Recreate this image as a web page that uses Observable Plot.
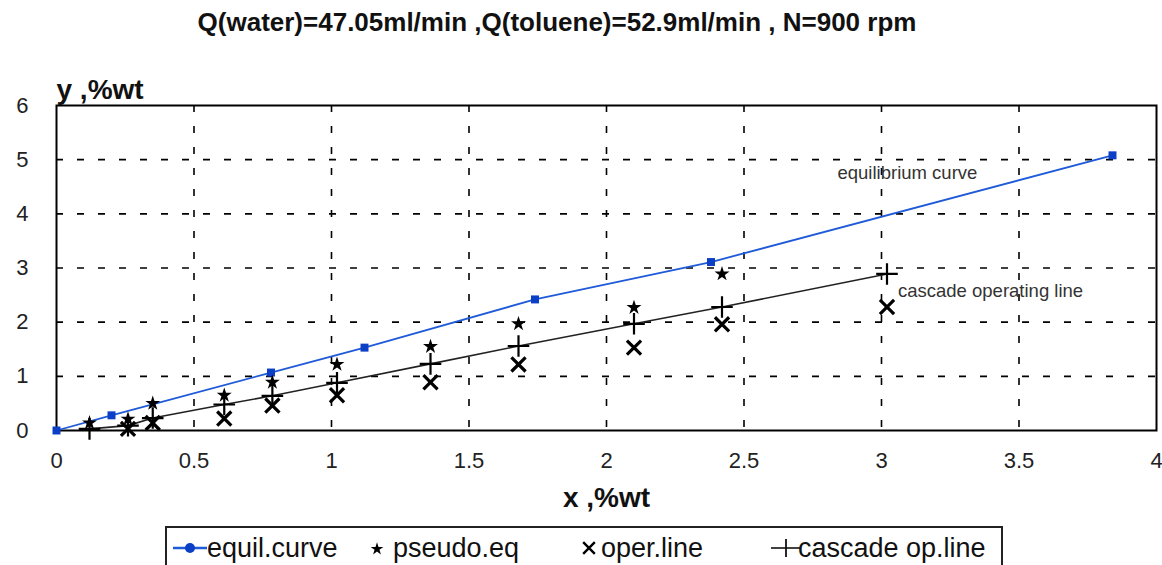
<!DOCTYPE html>
<html>
<head>
<meta charset="utf-8">
<script src="https://cdn.jsdelivr.net/npm/d3@7"></script>
<script src="https://cdn.jsdelivr.net/npm/@observablehq/plot@0.6"></script>
<style>
  html, body { margin: 0; padding: 0; background: #fff; }
  #wrap { position: relative; width: 1162px; height: 565px; overflow: hidden; font-family: "Liberation Sans", Arial, sans-serif; }
  #title { position: absolute; top: 6px; left: 0; width: 1114px; text-align: center; font-weight: bold; font-size: 26px; line-height: 32px; color: #111; }
  #chart { position: absolute; top: 45px; left: 0; }
  #legend { position: absolute; top: 526px; left: 165px; width: 838px; height: 60px; border: 2px solid #222; box-sizing: border-box; }
  .li { position: absolute; top: 4px; font-size: 27px; line-height: 32px; color: #111; white-space: nowrap; }
  .ic { position: absolute; top: 8px; }
</style>
</head>
<body>
<div id="wrap">
  <div id="title"></div>
  <div id="chart"></div>
  <div id="legend"></div>
</div>
<script>
// ---- data ----
const titleText = "Q(water)=47.05ml/min ,Q(toluene)=52.9ml/min , N=900 rpm";
const xLabel = "x ,%wt";
const yLabel = "y ,%wt";

const equilX = [0, 0.20, 0.78, 1.12, 1.74, 2.38, 3.84];
const equilY = [0, 0.28, 1.07, 1.53, 2.42, 3.11, 5.08];

const pseudoX = [0.12, 0.26, 0.35, 0.61, 0.785, 1.02, 1.36, 1.68, 2.10, 2.42];
const pseudoY = [0.14, 0.21, 0.50, 0.65, 0.89, 1.22, 1.55, 1.97, 2.27, 2.89];

const operX = [0.26, 0.35, 0.61, 0.785, 1.02, 1.36, 1.68, 2.10, 2.42, 3.02];
const operY = [0.03, 0.14, 0.22, 0.46, 0.65, 0.89, 1.22, 1.53, 1.96, 2.28];

const cascadeX = [0.12, 0.26, 0.35, 0.61, 0.785, 1.02, 1.36, 1.68, 2.10, 2.42, 3.02];
const cascadeY = [0.03, 0.09, 0.23, 0.48, 0.64, 0.88, 1.23, 1.56, 1.97, 2.28, 2.89];

const xTicks = [0, 0.5, 1, 1.5, 2, 2.5, 3, 3.5, 4];
const yTicks = [0, 1, 2, 3, 4, 5, 6];
const xGrid = [0.5, 1, 1.5, 2, 2.5, 3, 3.5];
const yGrid = [1, 2, 3, 4, 5];

const annText = ["equilibrium curve", "cascade operating line"];
const annX = [2.84, 3.06];
const annY = [4.76, 2.57];

const legendLabels = ["equil.curve", "pseudo.eq", "oper.line", "cascade op.line"];

// ---- build tables ----
const zip = (xs, ys) => xs.map((x, i) => ({x, y: ys[i]}));
const equil = zip(equilX, equilY);
const pseudo = zip(pseudoX, pseudoY);
const oper = zip(operX, operY);
const cascade = zip(cascadeX, cascadeY);
const ann = annText.map((t, i) => ({t, x: annX[i], y: annY[i]}));

const BLUE_LINE = "#1f5ad8";
const BLUE_DOT = "#0b3fc6";

document.getElementById("title").textContent = titleText;

const chart = Plot.plot({
  width: 1162,
  height: 480,
  marginTop: 60,
  marginBottom: 95,
  marginLeft: 56,
  marginRight: 6,
  style: {fontFamily: "Liberation Sans, Arial, sans-serif", background: "white", color: "#222"},
  x: {domain: [0, 4]},
  y: {domain: [0, 6]},
  marks: [
    Plot.gridX(xGrid, {stroke: "#000", strokeOpacity: 1, strokeWidth: 1.6, strokeDasharray: "7,14"}),
    Plot.gridY(yGrid, {stroke: "#000", strokeOpacity: 1, strokeWidth: 1.6, strokeDasharray: "7,14"}),
    Plot.axisX({ticks: xTicks, tickSize: 0, tickPadding: 22, fontSize: 22, label: null, fill: "#222", tickFormat: d => String(d)}),
    Plot.axisY({ticks: yTicks, tickSize: 0, tickPadding: 28, fontSize: 22, label: null, fill: "#222", tickFormat: d => String(d)}),
    Plot.frame({stroke: "#000", strokeWidth: 2}),
    Plot.line(equil, {x: "x", y: "y", stroke: BLUE_LINE, strokeWidth: 1.8}),
    Plot.line(cascade, {x: "x", y: "y", stroke: "#222", strokeWidth: 1.6}),
    Plot.dot(equil, {x: "x", y: "y", symbol: "square", r: 4.5, fill: BLUE_DOT}),
    Plot.dot(pseudo, {x: "x", y: "y", symbol: "star", r: 4.7, fill: "#000"}),
    Plot.dot(oper, {x: "x", y: "y", symbol: "times", r: 6.5, stroke: "#000", strokeWidth: 3.2}),
    Plot.dot(cascade, {x: "x", y: "y", symbol: "plus", r: 7, stroke: "#000", strokeWidth: 2.2}),
    Plot.text(ann, {x: "x", y: "y", text: "t", textAnchor: "start", fontSize: 18.5, fill: "#333"}),
    Plot.text([yLabel], {text: d => d, frameAnchor: "top-left", textAnchor: "start", dy: -26, fontSize: 28, fontWeight: "bold", fill: "#111"}),
    Plot.text([xLabel], {text: d => d, frameAnchor: "bottom", dy: 76, fontSize: 28, fontWeight: "bold", fill: "#111"})
  ]
});
document.getElementById("chart").appendChild(chart);

// ---- legend ----
const legend = document.getElementById("legend");
const sym = (type, size) => d3.symbol(type, size)();
const icons = [
  {left: 6, w: 34, svg: `<line x1="0" y1="12" x2="34" y2="12" stroke="${BLUE_LINE}" stroke-width="2.5"/><circle cx="17" cy="12" r="5" fill="${BLUE_DOT}"/>`},
  {left: 200, w: 20, svg: `<path transform="translate(10,13)" d="${sym(d3.symbolStar, 50)}" fill="#000"/>`},
  {left: 412, w: 20, svg: `<path transform="translate(10,12)" d="${sym(d3.symbolTimes, 90)}" stroke="#000" stroke-width="2.4" fill="none"/>`},
  {left: 604, w: 30, svg: `<line x1="0" y1="12" x2="30" y2="12" stroke="#111" stroke-width="1.6"/><line x1="15" y1="3" x2="15" y2="21" stroke="#111" stroke-width="1.8"/>`}
];
const textLefts = [40, 226, 434, 631];
icons.forEach((ic, i) => {
  const d = document.createElement("div");
  d.className = "ic";
  d.style.left = ic.left + "px";
  d.innerHTML = `<svg width="${ic.w}" height="24">${ic.svg}</svg>`;
  legend.appendChild(d);
  const t = document.createElement("div");
  t.className = "li";
  t.style.left = textLefts[i] + "px";
  t.textContent = legendLabels[i];
  legend.appendChild(t);
});
</script>
</body>
</html>
